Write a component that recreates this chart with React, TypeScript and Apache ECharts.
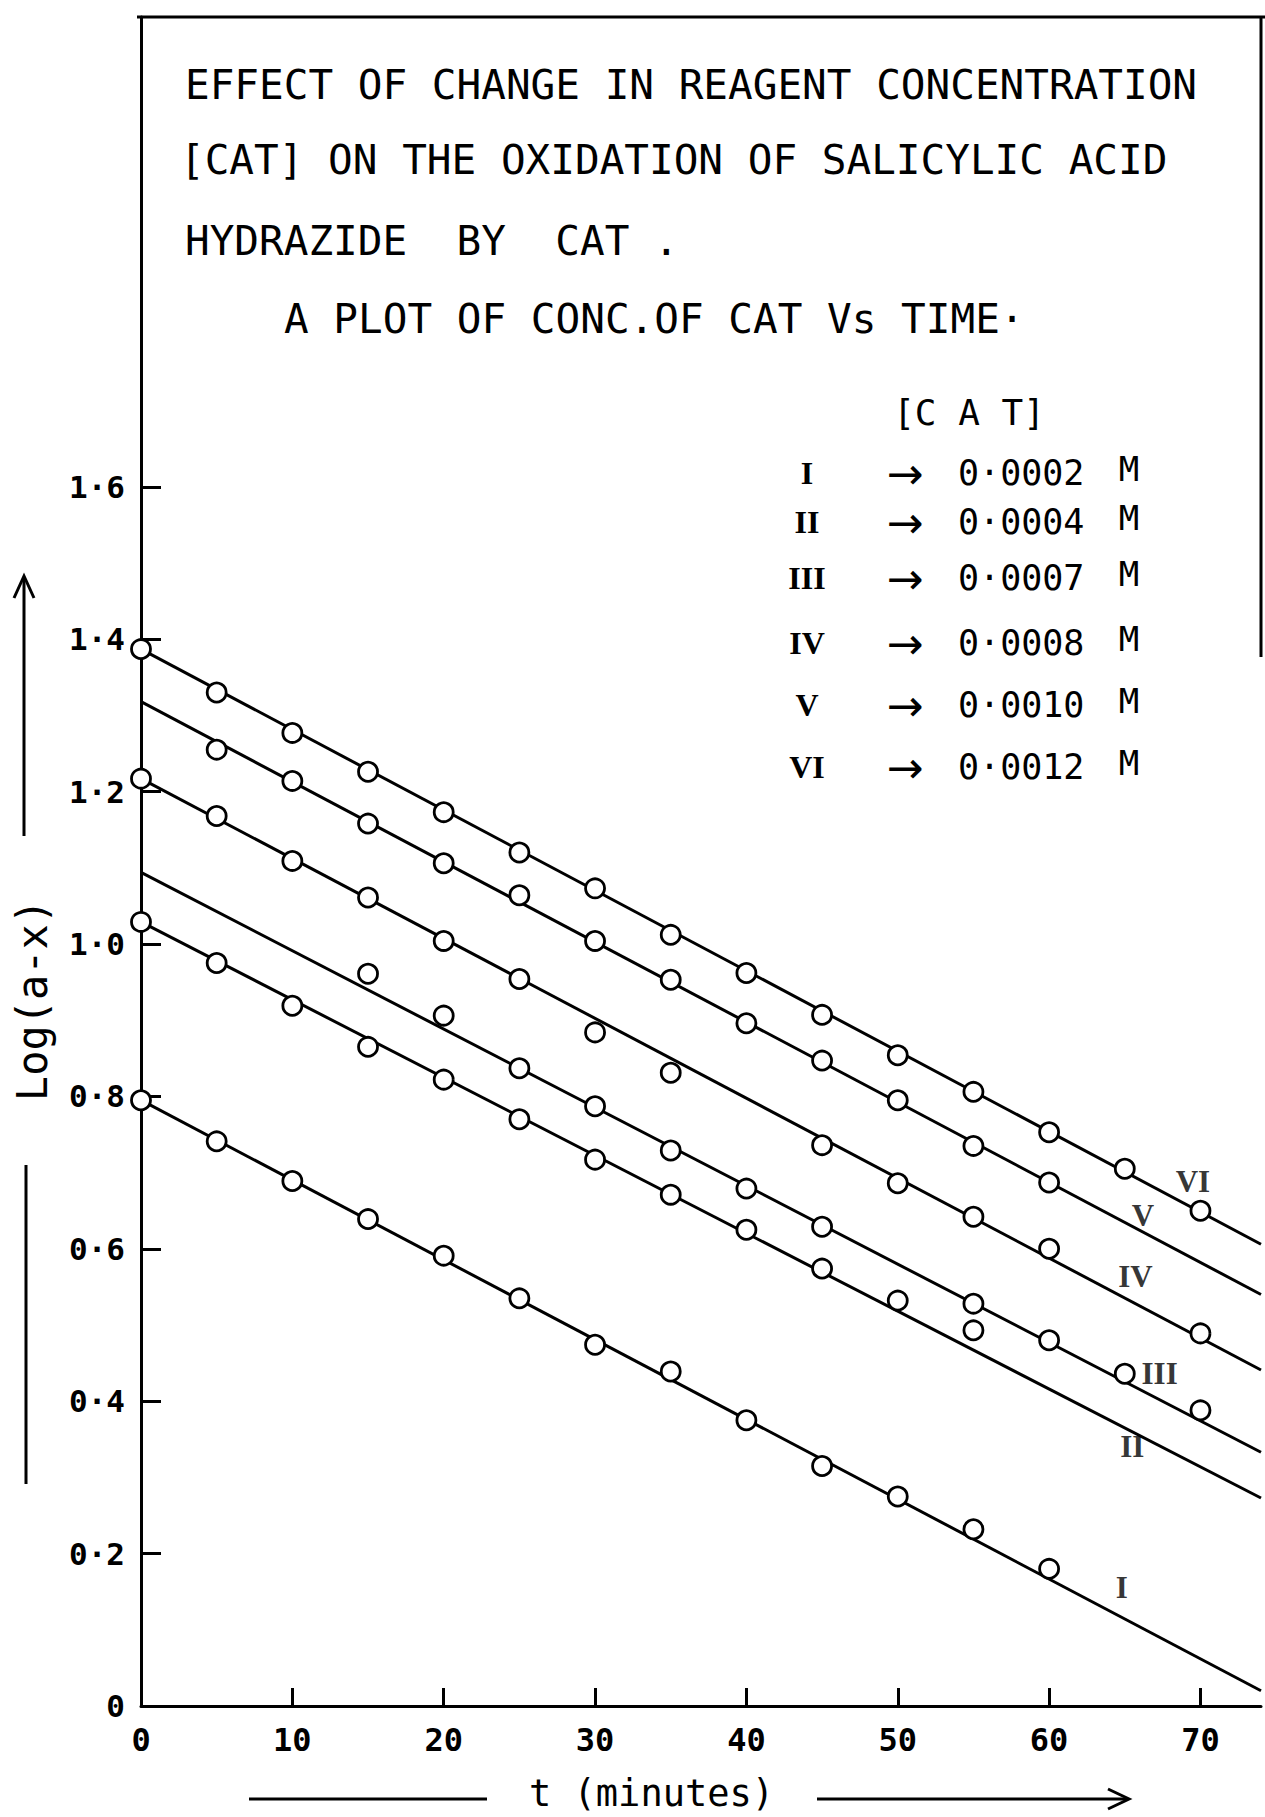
import React, { useEffect, useRef } from "react";
import * as echarts from "echarts";

// ---- data ----
const curveNames = ["I", "II", "III", "IV", "V", "VI"];
const catConcentration = [0.0002, 0.0004, 0.0007, 0.0008, 0.001, 0.0012];

const timesI = [0, 5, 10, 15, 20, 25, 30, 35, 40, 45, 50, 55, 60];
const valuesI = [0.795, 0.741, 0.689, 0.639, 0.591, 0.535, 0.474, 0.439, 0.375, 0.315, 0.275, 0.232, 0.18];

const timesII = [0, 5, 10, 15, 20, 25, 30, 35, 40, 45, 50, 55];
const valuesII = [1.029, 0.975, 0.919, 0.865, 0.822, 0.77, 0.717, 0.671, 0.625, 0.574, 0.532, 0.493];

const timesIII = [15, 20, 25, 30, 35, 40, 45, 55, 60, 65, 70];
const valuesIII = [0.961, 0.906, 0.837, 0.787, 0.729, 0.679, 0.629, 0.528, 0.48, 0.436, 0.388];

const timesIV = [0, 5, 10, 15, 20, 25, 30, 35, 45, 50, 55, 60, 70];
const valuesIV = [1.217, 1.168, 1.109, 1.061, 1.004, 0.954, 0.884, 0.831, 0.736, 0.686, 0.642, 0.6, 0.489];

const timesV = [5, 10, 15, 20, 25, 30, 35, 40, 45, 50, 55, 60];
const valuesV = [1.255, 1.214, 1.158, 1.106, 1.064, 1.004, 0.953, 0.896, 0.847, 0.795, 0.735, 0.687];

const timesVI = [0, 5, 10, 15, 20, 25, 30, 35, 40, 45, 50, 55, 60, 65, 70];
const valuesVI = [1.387, 1.33, 1.277, 1.226, 1.173, 1.12, 1.073, 1.012, 0.962, 0.907, 0.854, 0.806, 0.753, 0.705, 0.65];

// best-fit straight lines: value at t = 0 and at the right edge (t = 74)
const lineStartValues = [0.795, 1.029, 1.094, 1.217, 1.318, 1.387];
const lineEndValues = [0.02, 0.273, 0.333, 0.441, 0.54, 0.606];

const xTicks = [0, 10, 20, 30, 40, 50, 60, 70];
const yTicks = [0, 0.2, 0.4, 0.6, 0.8, 1.0, 1.2, 1.4, 1.6];

// ---- layout (not data) ----
const X_MAX = 74;
const Y_MAX = 2.2165;
const curveLabelAt = [
  [64.8, 0.156],
  [65.5, 0.34],
  [67.3, 0.436],
  [65.7, 0.564],
  [66.2, 0.644],
  [69.5, 0.688],
];
const legendRowY = [473, 522, 578, 643, 705, 767];

const allTimes = [timesI, timesII, timesIII, timesIV, timesV, timesVI];
const allValues = [valuesI, valuesII, valuesIII, valuesIV, valuesV, valuesVI];

const MONO = "DejaVu Sans Mono";
const SERIF = "Liberation Serif";

function fmtDot(v: number, digits: number) {
  return v.toFixed(digits).replace(".", "\u00b7");
}

export default function App() {
  const ref = useRef<HTMLDivElement>(null);

  useEffect(() => {
    if (!ref.current) return;
    const chart = echarts.init(ref.current, undefined, { renderer: "svg" });

    const series: any[] = [];
    curveNames.forEach((name, i) => {
      series.push({
        name: name + " fit",
        type: "line",
        data: [
          [0, lineStartValues[i]],
          [X_MAX, lineEndValues[i]],
        ],
        symbol: "none",
        lineStyle: { color: "#000", width: 3 },
        silent: true,
        z: 2,
      });
    });
    curveNames.forEach((name, i) => {
      series.push({
        name,
        type: "scatter",
        data: allTimes[i].map((t, j) => [t, allValues[i][j]]),
        symbol: "circle",
        symbolSize: 19,
        itemStyle: { color: "#fff", borderColor: "#000", borderWidth: 2.8, opacity: 1 },
        z: 5,
      });
    });
    series.push({
      name: "curve labels",
      type: "scatter",
      data: curveLabelAt.map((p, i) => ({ value: p, name: curveNames[i] })),
      symbolSize: 0,
      label: {
        show: true,
        position: "inside",
        formatter: (p: any) => p.name,
        fontFamily: SERIF,
        fontSize: 31,
        fontWeight: "bold",
        color: "#000",
      },
      silent: true,
      z: 6,
    });

    const graphic: any[] = [];
    // frame (top and right border)
    graphic.push({ type: "line", shape: { x1: 137, y1: 17, x2: 1265, y2: 17 }, style: { stroke: "#000", lineWidth: 3 } });
    graphic.push({ type: "line", shape: { x1: 1261, y1: 17, x2: 1261, y2: 657 }, style: { stroke: "#000", lineWidth: 3 } });

    // title block
    const titleLines = [
      { text: "EFFECT OF CHANGE IN REAGENT CONCENTRATION", x: 185, y: 85 },
      { text: "[CAT] ON THE OXIDATION OF SALICYLIC ACID", x: 180, y: 160 },
      { text: "HYDRAZIDE  BY  CAT .", x: 185, y: 241 },
      { text: "A PLOT OF CONC.OF CAT Vs TIME\u00b7", x: 284, y: 319 },
    ];
    titleLines.forEach((l) =>
      graphic.push({
        type: "text",
        x: l.x,
        y: l.y,
        style: {
          text: l.text,
          fontFamily: MONO,
          fontSize: 41,
          fill: "#000",
          textAlign: "left",
          textVerticalAlign: "middle",
        },
      })
    );

    // legend block
    graphic.push({
      type: "text",
      x: 969,
      y: 412,
      style: { text: "[C A T]", fontFamily: MONO, fontSize: 36, fill: "#000", textAlign: "center", textVerticalAlign: "middle" },
    });
    curveNames.forEach((name, i) => {
      const y = legendRowY[i];
      graphic.push({
        type: "text",
        x: 807,
        y,
        style: { text: name, fontFamily: SERIF, fontSize: 32, fontWeight: "bold", fill: "#000", textAlign: "center", textVerticalAlign: "middle" },
      });
      graphic.push({
        type: "text",
        x: 905,
        y,
        style: { text: "\u2192", fontFamily: "DejaVu Sans", fontSize: 44, fill: "#000", textAlign: "center", textVerticalAlign: "middle" },
      });
      graphic.push({
        type: "text",
        x: 958,
        y,
        style: { text: fmtDot(catConcentration[i], 4), fontFamily: MONO, fontSize: 35, fill: "#000", textAlign: "left", textVerticalAlign: "middle" },
      });
      graphic.push({
        type: "text",
        x: 1129,
        y: y - 4,
        style: { text: "M", fontFamily: MONO, fontSize: 34, fill: "#000", textAlign: "center", textVerticalAlign: "middle" },
      });
    });

    // x axis title with arrows
    graphic.push({ type: "line", shape: { x1: 249, y1: 1799, x2: 487, y2: 1799 }, style: { stroke: "#000", lineWidth: 3 } });
    graphic.push({
      type: "text",
      x: 529,
      y: 1793,
      style: { text: "t (minutes)", fontFamily: MONO, fontSize: 37, fill: "#000", textAlign: "left", textVerticalAlign: "middle" },
    });
    graphic.push({ type: "line", shape: { x1: 817, y1: 1799, x2: 1127, y2: 1799 }, style: { stroke: "#000", lineWidth: 3 } });
    graphic.push({
      type: "polyline",
      shape: { points: [[1108, 1789], [1129, 1799], [1108, 1809]] },
      style: { stroke: "#000", lineWidth: 3, fill: null },
    });

    // y axis title with arrows
    graphic.push({ type: "line", shape: { x1: 24, y1: 836, x2: 24, y2: 578 }, style: { stroke: "#000", lineWidth: 3 } });
    graphic.push({
      type: "polyline",
      shape: { points: [[14, 598], [24, 576], [34, 598]] },
      style: { stroke: "#000", lineWidth: 3, fill: null },
    });
    graphic.push({
      type: "text",
      x: 32,
      y: 1000,
      rotation: Math.PI / 2,
      style: { text: "Log(a-x)", fontFamily: MONO, fontSize: 42, fill: "#000", textAlign: "center", textVerticalAlign: "middle" },
    });
    graphic.push({ type: "line", shape: { x1: 26, y1: 1165, x2: 26, y2: 1484 }, style: { stroke: "#000", lineWidth: 3 } });

    chart.setOption({
      animation: false,
      backgroundColor: "#fff",
      grid: { left: 141, right: 4, top: 17, bottom: 111, containLabel: false },
      xAxis: {
        type: "value",
        min: 0,
        max: X_MAX,
        interval: 10,
        axisLine: { show: true, onZero: false, lineStyle: { color: "#000", width: 3 } },
        axisTick: { show: true, inside: true, length: 18, customValues: xTicks, lineStyle: { color: "#000", width: 3 } },
        axisLabel: {
          customValues: xTicks,
          color: "#000",
          fontFamily: MONO,
          fontSize: 32,
          fontWeight: "bold",
          margin: 18,
        },
        splitLine: { show: false },
      },
      yAxis: {
        type: "value",
        min: 0,
        max: Y_MAX,
        axisLine: { show: true, onZero: false, lineStyle: { color: "#000", width: 3 } },
        axisTick: { show: true, inside: true, length: 20, customValues: yTicks, lineStyle: { color: "#000", width: 3 } },
        axisLabel: {
          customValues: yTicks,
          formatter: (v: number) => (v === 0 ? "0" : fmtDot(v, 1)),
          color: "#000",
          fontFamily: MONO,
          fontSize: 31,
          fontWeight: "bold",
          margin: 16,
        },
        splitLine: { show: false },
      },
      series,
      graphic,
    });

    return () => chart.dispose();
  }, []);

  return (
    <div
      ref={ref}
      style={{ position: "absolute", left: 0, top: 0, width: 1265, height: 1817, background: "#fff" }}
    />
  );
}
